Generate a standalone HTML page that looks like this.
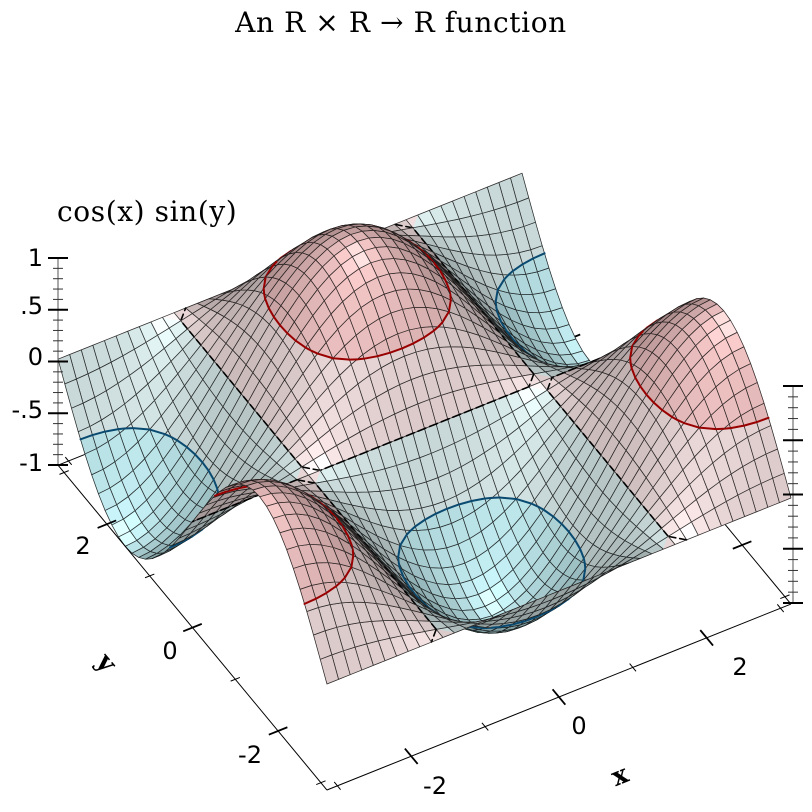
<!DOCTYPE html>
<html><head><meta charset="utf-8">
<style>
html,body{margin:0;padding:0;background:#fff;}
svg{display:block;}
text{font-family:"DejaVu Serif","Liberation Serif",serif;fill:#000;}
.t{font-family:"DejaVu Sans","Liberation Sans",sans-serif;font-size:24px;}
</style></head>
<body>
<svg id="s" width="812" height="812" viewBox="0 0 812 812" xmlns="http://www.w3.org/2000/svg">
<g id="back"></g>
<g id="surf"></g>
<g id="front"></g>
<text x="401" y="32" font-size="28" letter-spacing="0.6" text-anchor="middle">An R × R → R function</text>
<text x="57" y="221" font-size="28" letter-spacing="0.6">cos(x) sin(y)</text>
<text class="t" x="43" y="258" text-anchor="end" dominant-baseline="central">1</text>
<text class="t" x="43" y="306" text-anchor="end" dominant-baseline="central">.5</text>
<text class="t" x="43" y="357" text-anchor="end" dominant-baseline="central">0</text>
<text class="t" x="43" y="410" text-anchor="end" dominant-baseline="central">-.5</text>
<text class="t" x="43" y="463" text-anchor="end" dominant-baseline="central">-1</text>
<text class="t" x="435" y="786" text-anchor="middle" dominant-baseline="central">-2</text>
<text class="t" x="579" y="726" text-anchor="middle" dominant-baseline="central">0</text>
<text class="t" x="740" y="667" text-anchor="middle" dominant-baseline="central">2</text>
<text class="t" x="83" y="546" text-anchor="middle" dominant-baseline="central">2</text>
<text class="t" x="170" y="651" text-anchor="middle" dominant-baseline="central">0</text>
<text class="t" x="250" y="755" text-anchor="middle" dominant-baseline="central">-2</text>
<text x="620" y="776" font-size="26" font-weight="bold" text-anchor="middle" dominant-baseline="central" transform="rotate(-22 620 776)">x</text>
<text x="106" y="663" font-size="26" font-weight="bold" text-anchor="middle" dominant-baseline="central" transform="rotate(50 106 663)">y</text>
</svg>
<script>
(function(){
var P=Math.PI,N=40;
function f(x,y){var z=Math.cos(x)*Math.sin(y);if(Math.abs(z)<1e-12)z=0;return z;}
function pr(x,y,z){return [424.5+73.85*x-42.8*y,428.6-29.6*x-51.7*y-106*z];}
var V=[-14257,-24592,50185],vm=Math.hypot(V[0],V[1],V[2]);V=V.map(function(a){return a/vm;});
function ln(a,b,w,c,extra){return '<line x1="'+a[0].toFixed(2)+'" y1="'+a[1].toFixed(2)+'" x2="'+b[0].toFixed(2)+'" y2="'+b[1].toFixed(2)+'" stroke="'+(c||'#000')+'" stroke-width="'+w+'"'+(extra||'')+'/>';}
var back='',front='';
var yd=[-0.638,-0.77],xd=[0.928,-0.372];
function axisLine(p0,p1,ticks,dir){var s=ln(p0,p1,1,'#000');
 ticks.forEach(function(t){var p=t[0],h=t[1];s+=ln([p[0]-dir[0]*h,p[1]-dir[1]*h],[p[0]+dir[0]*h,p[1]+dir[1]*h],h>6?1.8:1,'#000');});return s;}
function tk(fn){var r=[];[-3,-2,-1,0,1,2,3].forEach(function(v){r.push([fn(v),v%2==0?10:5]);});r.push([fn(-P),0]);return r;}
back+=axisLine(pr(-P,P,-1),pr(P,P,-1),tk(function(v){return pr(v,P,-1);}),yd);
back+=axisLine(pr(P,-P,-1),pr(P,P,-1),tk(function(v){return pr(P,v,-1);}),xd);
front+=axisLine(pr(-P,-P,-1),pr(P,-P,-1),tk(function(v){return pr(v,-P,-1);}),yd);
front+=axisLine(pr(-P,-P,-1),pr(-P,P,-1),tk(function(v){return pr(-P,v,-1);}),xd);
function zaxis(x,y0,sc){var s=ln([x,y0+sc],[x,y0-sc],1,'#555');
 for(var k=-10;k<=10;k++){var y=y0-sc*k/10,maj=(k%5==0),h=maj?10:5;s+=ln([x-h,y],[x+h,y],maj?2:1,maj?'#000':'#333');}return s;}
front+=zaxis(58,361.5,103.5);
front+=zaxis(793,494.5,108.5);
document.getElementById('back').innerHTML=back;
document.getElementById('front').innerHTML=front;
var g=[];for(var i=0;i<=N;i++){g[i]=[];for(var j=0;j<=N;j++){var x=-P+2*P*i/N,y=-P+2*P*j/N;g[i][j]=[x,y,f(x,y)];}}
var quads=[];
for(i=0;i<N;i++)for(j=0;j<N;j++){var c=[g[i][j],g[i+1][j],g[i+1][j+1],g[i][j+1]];
 var cx=0,cy=0,cz=0;c.forEach(function(p){cx+=p[0];cy+=p[1];cz+=p[2];});
 var dist=-(V[0]*cx/4/P+V[1]*cy/4/P+V[2]*cz/4);
 quads.push({c:c,d:dist});}
quads.sort(function(a,b){return b.d-a.d;});
var bands=[[-2,-0.5,[205,250,255]],[-0.5,0,[230,248,248]],[0,0.5,[254,234,234]],[0.5,2,[255,207,207]]];
function clip(poly,l,sg){var out=[];for(var k=0;k<poly.length;k++){var a=poly[k],b=poly[(k+1)%poly.length];
 var ia=sg*(a[2]-l)>=0,ib=sg*(b[2]-l)>=0;
 if(ia)out.push(a);
 if(ia!=ib){var t=(l-a[2])/(b[2]-a[2]);out.push([a[0]+t*(b[0]-a[0]),a[1]+t*(b[1]-a[1]),l]);}}
 return out;}
function pts(poly){return poly.map(function(p){var q=pr(p[0],p[1],p[2]);return q[0].toFixed(2)+','+q[1].toFixed(2);}).join(' ');}
var levels=[[-0.5,'#0a4a70',2,''],[0,'#000',1.6,' stroke-dasharray="7,4"'],[0.5,'#990000',2,'']];
var out=[];
quads.forEach(function(q){var c=q.c;
 var a=[(c[2][0]-c[0][0])/P,(c[2][1]-c[0][1])/P,c[2][2]-c[0][2]],b=[(c[3][0]-c[1][0])/P,(c[3][1]-c[1][1])/P,c[3][2]-c[1][2]];
 var n=[a[1]*b[2]-a[2]*b[1],a[2]*b[0]-a[0]*b[2],a[0]*b[1]-a[1]*b[0]],nm=Math.hypot(n[0],n[1],n[2]);
 var d=Math.abs((n[0]*V[0]+n[1]*V[1]+n[2]*V[2])/nm);
 var s=0.6+0.4*d,sp=30*Math.pow(d,25);
 bands.forEach(function(bd){var p=clip(clip(c,bd[0],1),bd[1],-1);if(p.length<3)return;
  var col=bd[2].map(function(v){return Math.min(255,Math.round(v*s+sp));});
  var cs='rgb('+col.join(',')+')';
  out.push('<polygon points="'+pts(p)+'" fill="'+cs+'" stroke="'+cs+'" stroke-width="0.6"/>');});
 out.push('<polygon points="'+pts(c)+'" fill="none" stroke="#000" stroke-opacity="0.8" stroke-width="0.75" stroke-linejoin="round"/>');
 levels.forEach(function(L){var l=L[0],ps=[];
  for(var k=0;k<4;k++){var A=c[k],B=c[(k+1)%4];if((A[2]>l)!=(B[2]>l)){var t=(l-A[2])/(B[2]-A[2]);ps.push([A[0]+t*(B[0]-A[0]),A[1]+t*(B[1]-A[1]),l]);}}
  for(var m=0;m+1<ps.length;m+=2){var p1=ps[m],p2=ps[m+1];
   if(l==0&&Math.abs(p1[1])>P-1e-9&&Math.abs(p2[1])>P-1e-9)continue;
   out.push(ln(pr(p1[0],p1[1],l),pr(p2[0],p2[1],l),L[2],L[1],' stroke-linecap="round"'+L[3]));}});
});
document.getElementById('surf').innerHTML=out.join('');
})();
</script>
</body></html>
